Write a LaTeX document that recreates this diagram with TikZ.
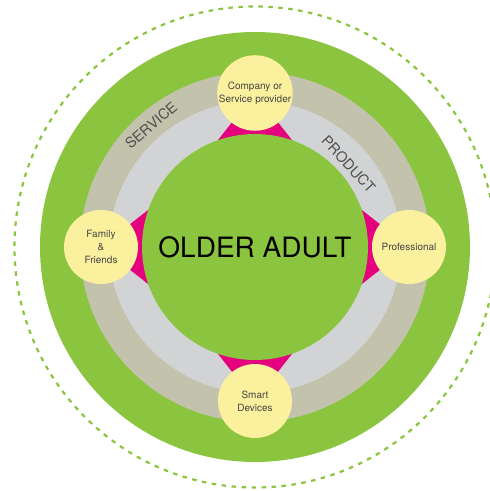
\documentclass[tikz,border=0pt]{standalone}
\usepackage{fontspec}
\setmainfont{TeX Gyre Heros}
\definecolor{leaf}{HTML}{8BC53F}
\definecolor{khaki}{HTML}{C3C2AD}
\definecolor{lgray}{HTML}{D2D3D5}
\definecolor{mag}{HTML}{E5007D}
\definecolor{pale}{HTML}{FAF09E}
\definecolor{txtgray}{HTML}{454545}
\definecolor{bandtxt}{HTML}{505050}
\tikzset{
  actor/.style={circle, fill=pale, minimum size=74pt, inner sep=0pt, align=center,
    font=\fontsize{10}{13}\selectfont, text=txtgray},
  bandlabel/.style={font=\fontsize{14.5}{16}\selectfont, text=bandtxt, inner sep=0pt},
  wedge/.style={fill=mag}
}
\begin{document}
\begin{tikzpicture}[x=1pt,y=1pt]
\useasboundingbox (-255,-244) rectangle (235,247);
% outer dashed ring
\draw[leaf, line width=2.2pt, dash pattern=on 4.5pt off 5.5pt] (0,0) circle[radius=240.5pt];
% bands
\fill[leaf] (0,0) circle[radius=215pt];
\fill[khaki] (0,0) circle[radius=175pt];
\fill[lgray] (0,0) circle[radius=146pt];
% actor positions
\coordinate (ctop) at (90:154);
\coordinate (cright) at (0:154);
\coordinate (cbottom) at (270:154);
\coordinate (cleft) at (180:154);
% magenta wedges
\foreach \a/\c in {90/ctop, 0/cright, 270/cbottom, 180/cleft}{
  \fill[wedge] (\c) -- (\a-20:112) -- (\a+20:112) -- cycle;
}
% centre
\node[circle, fill=leaf, minimum size=226pt, inner sep=0pt,
  font=\fontsize{28}{30}\selectfont] (older) at (0,0) {\raisebox{0pt}{OLDER ADULT}};
% actors
\node[actor] (company) at (ctop) {Company or\\Service provider};
\node[actor] (prof) at (cright) {Professional};
\node[actor] (smart) at (cbottom) {Smart\\Devices};
\node[actor] (family) at (cleft) {Family\\\&\\Friends};
% band labels
\node[bandlabel, rotate=40.5] (service) at (130.5:160) {SERVICE};
\node[bandlabel, rotate=-47.5] (product) at (41.5:125) {PRODUCT};
\end{tikzpicture}
\end{document}
